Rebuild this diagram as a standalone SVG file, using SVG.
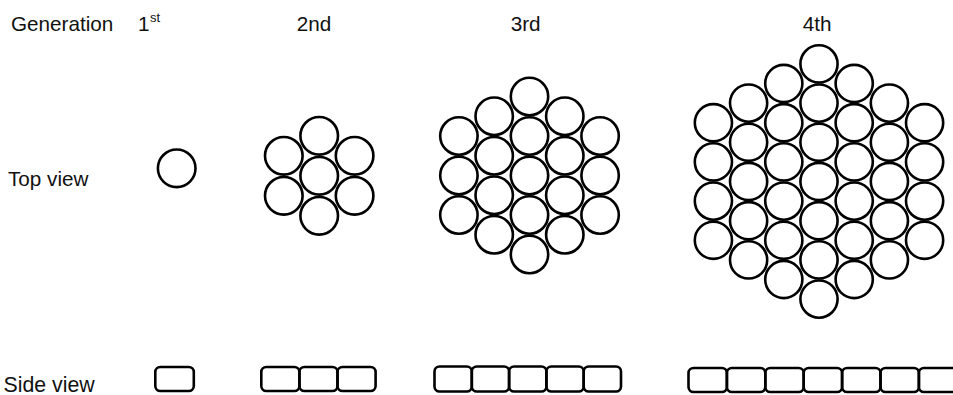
<svg xmlns="http://www.w3.org/2000/svg" width="953" height="395" viewBox="0 0 953 395">
<style>
.t{font-family:"Liberation Sans",Arial,sans-serif;font-size:20.7px;fill:#111}
.sup{font-family:"Liberation Sans",Arial,sans-serif;font-size:13px;fill:#111}
.c{fill:none;stroke:#000;stroke-width:2.6}
.r{fill:none;stroke:#000;stroke-width:2.6}
</style>
<rect width="953" height="395" fill="#fff"/>
<g id="labels">
<text class="t" x="11" y="30.5">Generation</text>
<text class="t" x="138" y="30.5">1</text><text class="sup" x="150" y="22">st</text>
<text class="t" x="296.7" y="30.5">2nd</text>
<text class="t" x="510.7" y="30.5">3rd</text>
<text class="t" x="802.7" y="30.5">4th</text>
<text class="t" x="8" y="185.5">Top view</text>
<text class="t" x="3.5" y="391.5" style="font-size:21.3px">Side view</text>
</g>
<g id="top-gen1">
<circle class="c" cx="176.7" cy="168.3" r="18.8"/>
</g>
<g id="top-gen2">
<circle class="c" cx="283.8" cy="155.8" r="18.8"/>
<circle class="c" cx="283.8" cy="195.8" r="18.8"/>
<circle class="c" cx="319.2" cy="135.8" r="18.8"/>
<circle class="c" cx="319.2" cy="175.8" r="18.8"/>
<circle class="c" cx="319.2" cy="215.8" r="18.8"/>
<circle class="c" cx="354.6" cy="155.8" r="18.8"/>
<circle class="c" cx="354.6" cy="195.8" r="18.8"/>
</g>
<g id="top-gen3">
<circle class="c" cx="458.9" cy="136" r="18.7"/>
<circle class="c" cx="458.9" cy="175.5" r="18.7"/>
<circle class="c" cx="458.9" cy="215" r="18.7"/>
<circle class="c" cx="494.2" cy="116.25" r="18.7"/>
<circle class="c" cx="494.2" cy="155.75" r="18.7"/>
<circle class="c" cx="494.2" cy="195.25" r="18.7"/>
<circle class="c" cx="494.2" cy="234.75" r="18.7"/>
<circle class="c" cx="529.5" cy="96.5" r="18.7"/>
<circle class="c" cx="529.5" cy="136" r="18.7"/>
<circle class="c" cx="529.5" cy="175.5" r="18.7"/>
<circle class="c" cx="529.5" cy="215" r="18.7"/>
<circle class="c" cx="529.5" cy="254.5" r="18.7"/>
<circle class="c" cx="564.8" cy="116.25" r="18.7"/>
<circle class="c" cx="564.8" cy="155.75" r="18.7"/>
<circle class="c" cx="564.8" cy="195.25" r="18.7"/>
<circle class="c" cx="564.8" cy="234.75" r="18.7"/>
<circle class="c" cx="600.1" cy="136" r="18.7"/>
<circle class="c" cx="600.1" cy="175.5" r="18.7"/>
<circle class="c" cx="600.1" cy="215" r="18.7"/>
</g>
<g id="top-gen4">
<circle class="c" cx="713.4" cy="122.7" r="18.6"/>
<circle class="c" cx="713.4" cy="161.9" r="18.6"/>
<circle class="c" cx="713.4" cy="201.1" r="18.6"/>
<circle class="c" cx="713.4" cy="240.3" r="18.6"/>
<circle class="c" cx="748.6" cy="103.1" r="18.6"/>
<circle class="c" cx="748.6" cy="142.3" r="18.6"/>
<circle class="c" cx="748.6" cy="181.5" r="18.6"/>
<circle class="c" cx="748.6" cy="220.7" r="18.6"/>
<circle class="c" cx="748.6" cy="259.9" r="18.6"/>
<circle class="c" cx="783.8" cy="83.5" r="18.6"/>
<circle class="c" cx="783.8" cy="122.7" r="18.6"/>
<circle class="c" cx="783.8" cy="161.9" r="18.6"/>
<circle class="c" cx="783.8" cy="201.1" r="18.6"/>
<circle class="c" cx="783.8" cy="240.3" r="18.6"/>
<circle class="c" cx="783.8" cy="279.5" r="18.6"/>
<circle class="c" cx="819" cy="63.9" r="18.6"/>
<circle class="c" cx="819" cy="103.1" r="18.6"/>
<circle class="c" cx="819" cy="142.3" r="18.6"/>
<circle class="c" cx="819" cy="181.5" r="18.6"/>
<circle class="c" cx="819" cy="220.7" r="18.6"/>
<circle class="c" cx="819" cy="259.9" r="18.6"/>
<circle class="c" cx="819" cy="299.1" r="18.6"/>
<circle class="c" cx="854.2" cy="83.5" r="18.6"/>
<circle class="c" cx="854.2" cy="122.7" r="18.6"/>
<circle class="c" cx="854.2" cy="161.9" r="18.6"/>
<circle class="c" cx="854.2" cy="201.1" r="18.6"/>
<circle class="c" cx="854.2" cy="240.3" r="18.6"/>
<circle class="c" cx="854.2" cy="279.5" r="18.6"/>
<circle class="c" cx="889.4" cy="103.1" r="18.6"/>
<circle class="c" cx="889.4" cy="142.3" r="18.6"/>
<circle class="c" cx="889.4" cy="181.5" r="18.6"/>
<circle class="c" cx="889.4" cy="220.7" r="18.6"/>
<circle class="c" cx="889.4" cy="259.9" r="18.6"/>
<circle class="c" cx="924.6" cy="122.7" r="18.6"/>
<circle class="c" cx="924.6" cy="161.9" r="18.6"/>
<circle class="c" cx="924.6" cy="201.1" r="18.6"/>
<circle class="c" cx="924.6" cy="240.3" r="18.6"/>
</g>
<g id="side-gen1">
<rect class="r" x="155.3" y="367" width="38.5" height="24" rx="5"/>
</g>
<g id="side-gen2">
<rect class="r" x="261.3" y="367" width="38.1" height="24" rx="5"/>
<rect class="r" x="299.4" y="367" width="38.1" height="24" rx="5"/>
<rect class="r" x="337.5" y="367" width="38.1" height="24" rx="5"/>
</g>
<g id="side-gen3">
<rect class="r" x="434.5" y="366.5" width="37.3" height="25" rx="5"/>
<rect class="r" x="471.8" y="366.5" width="37.3" height="25" rx="5"/>
<rect class="r" x="509.1" y="366.5" width="37.3" height="25" rx="5"/>
<rect class="r" x="546.4" y="366.5" width="37.3" height="25" rx="5"/>
<rect class="r" x="583.7" y="366.5" width="37.3" height="25" rx="5"/>
</g>
<g id="side-gen4">
<rect class="r" x="688.5" y="368" width="38.4" height="24" rx="5"/>
<rect class="r" x="726.9" y="368" width="38.4" height="24" rx="5"/>
<rect class="r" x="765.3" y="368" width="38.4" height="24" rx="5"/>
<rect class="r" x="803.7" y="368" width="38.4" height="24" rx="5"/>
<rect class="r" x="842.1" y="368" width="38.4" height="24" rx="5"/>
<rect class="r" x="880.5" y="368" width="38.4" height="24" rx="5"/>
<rect class="r" x="918.9" y="368" width="38.4" height="24" rx="5"/>
</g>
<g id="connectors"/>
</svg>
